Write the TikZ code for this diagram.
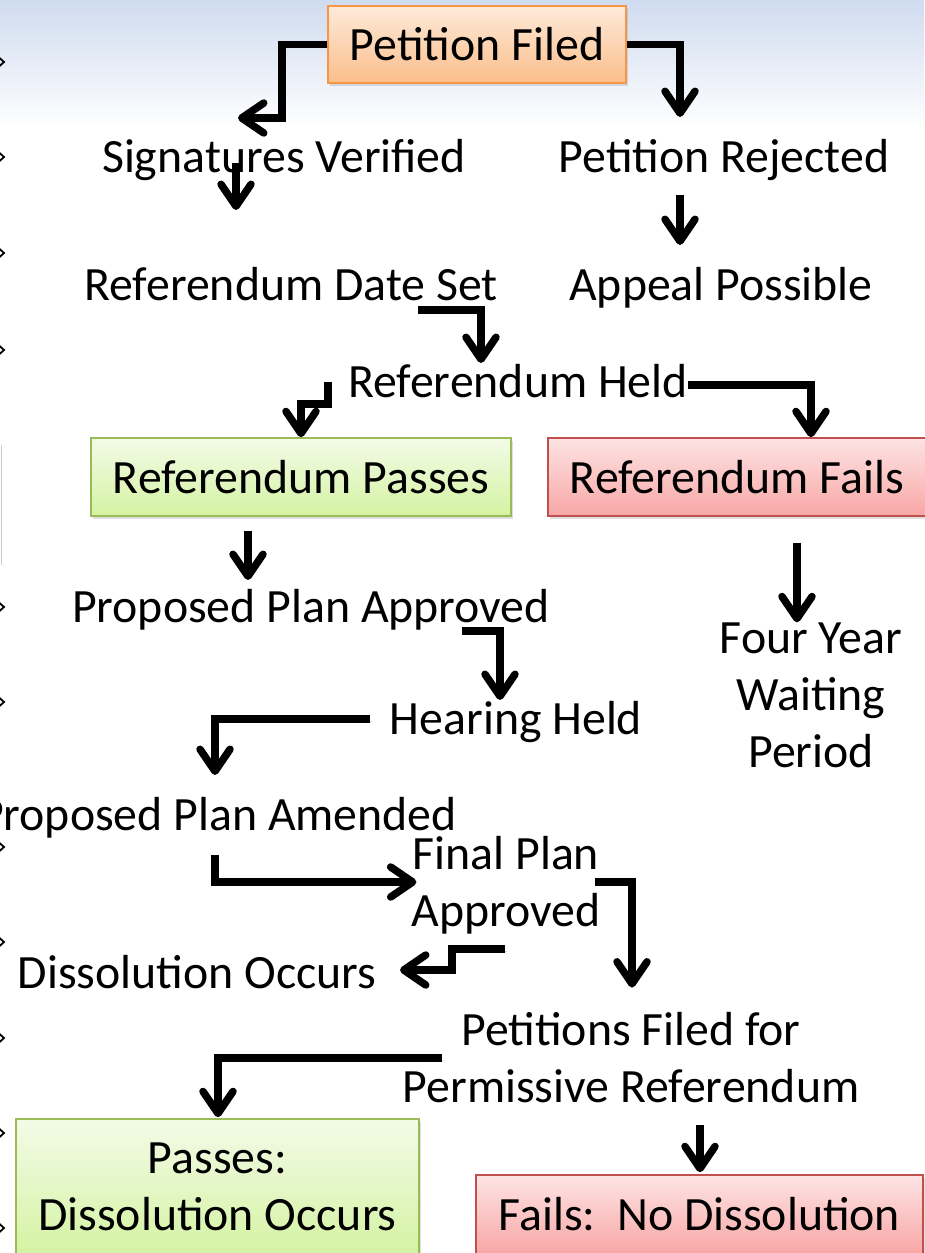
\documentclass[tikz,border=0pt]{standalone}
\usepackage{fontspec}
\setmainfont{Carlito}
\usetikzlibrary{arrows.meta,calc,shadows}
\definecolor{bgtop}{HTML}{CFDBEF}
\definecolor{obord}{HTML}{F79646}
\definecolor{otop}{HTML}{FDEADA}
\definecolor{obot}{HTML}{FBBE8A}
\definecolor{gbord}{HTML}{9BBB59}
\definecolor{gtop}{HTML}{F3FBE8}
\definecolor{gbot}{HTML}{D4F3A2}
\definecolor{rbord}{HTML}{C0504D}
\definecolor{rtop}{HTML}{FDE4E4}
\definecolor{rbot}{HTML}{F8A6A5}
\begin{document}
\begin{tikzpicture}[x=1pt,y=-1pt,
  lbl/.style={font=\fontsize{47.8}{57}\selectfont, inner sep=0pt, align=center},
  boxbase/.style={lbl, line width=1.6pt, drop shadow={shadow xshift=2pt,shadow yshift=-2.5pt,opacity=0.25}},
  obox/.style={boxbase, draw=obord, top color=otop, bottom color=obot},
  gbox/.style={boxbase, draw=gbord, top color=gtop, bottom color=gbot},
  rbox/.style={boxbase, draw=rbord, top color=rtop, bottom color=rbot},
  conn/.style={line width=7.5pt, black, -{Straight Barb[length=22pt,width=30pt,round]},
     preaction={draw=black, opacity=0.18, transform canvas={shift={(1.5pt,-2pt)}}}},
  chev/.style={line width=1.8pt}
]
\useasboundingbox (0,0) rectangle (924,1253);
\fill[white] (0,0) rectangle (924,1253);
\shade[top color=bgtop, bottom color=white] (0,0) rectangle (924,128);
\foreach \yy in {62,157,253,350,607,702,847,942,1038,1133,1228}
  \draw[chev] (-1.5,\yy-5) -- (4,\yy) -- (-1.5,\yy+5);
\draw[black!20, line width=1pt] (1,445) -- (1,565);

\node[obox, minimum width=298pt, minimum height=77pt] (pf) at (477,44.5) {Petition Filed};
\node[lbl, anchor=base] (sv) at (284,172) {Signatures Verified};
\node[lbl, anchor=base] (pr) at (724,172) {Petition Rejected};
\node[lbl, anchor=base] (rds) at (291,300) {Referendum Date Set};
\node[lbl, anchor=base] (ap) at (721,300) {Appeal Possible};
\node[lbl, anchor=base] (rh) at (518,397) {Referendum Held};
\node[gbox, minimum width=420pt, minimum height=78pt] (rp) at (301,477) {Referendum Passes};
\node[rbox, minimum width=378pt, minimum height=78pt] (rf) at (737,477) {Referendum Fails};
\node[lbl, anchor=base] (ppa) at (311,622) {Proposed Plan Approved};
\node[lbl] (fyw) at (811,695) {Four Year\\Waiting\\Period};
\node[lbl, anchor=base] (hh) at (516,734) {Hearing Held};
\node[lbl, anchor=base] (ppam) at (218,830) {Proposed Plan Amended};
\node[lbl] (fpa) at (506,885) {Final Plan\\Approved};
\node[lbl, anchor=base] (dso) at (197,988) {Dissolution Occurs};
\node[lbl] (pff) at (631,1058) {Petitions Filed for\\Permissive Referendum};
\node[gbox, minimum width=403pt, minimum height=136pt] (pdo) at (217.5,1187) {Passes:\\Dissolution Occurs};
\node[rbox, minimum width=447pt, minimum height=79pt] (fnd) at (699.5,1214.5) {Fails:\ \ No Dissolution};

\draw[conn] (pf.west) -| ($(sv.base)+(-2,-54)$) -- ($(sv.base)+(-46,-54)$);
\draw[conn] (pf.east) -| ($(pr.base)+(-44,-55)$);
\draw[conn] ($(sv.base)+(-48,-9)$) -- ($(rds.base)+(-55,-90)$);
\draw[conn] ($(pr.base)+(-44,23)$) -- ($(ap.base)+(-41,-55)$);
\draw[conn] ($(rds.base)+(127,10)$) -| ($(rh.base)+(-37,-34)$);
\draw[conn] ($(rh.base)+(-190,-15)$) |- ($(rp.north)+(0,-33)$) -- (rp.north);
\draw[conn] ($(rh.base)+(170,-12)$) -| ($(rf.north)+(74,0)$);
\draw[conn] ($(rp.south)+(-53,14)$) -- ($(ppa.base)+(-63,-42)$);
\draw[conn] ($(rf.south)+(60,26)$) -- ($(fyw.north)+(-14,0)$);
\draw[conn] ($(ppa.base)+(151,9)$) -| ($(hh.base)+(-16,-34)$);
\draw[conn] ($(hh.base)+(-146,-15)$) -| ($(ppam.base)+(-3,-55)$);
\draw[conn] ($(ppam.base)+(-3,25)$) |- ($(fpa.west)+(5,-3)$);
\draw[conn] ($(fpa.south)+(-1,15)$) -| ($(dso.base)+(255,-18)$) -- ($(dso.base)+(203,-18)$);
\draw[conn] ($(fpa.east)+(-6,-3)$) -| ($(pff.north)+(1,-25)$);
\draw[conn] ($(pff.west)+(39,0)$) -| ($(pdo.north)+(0.5,-1)$);
\draw[conn] ($(pff.south)+(69,22)$) -- ($(fnd.north)+(0.5,-2)$);
\end{tikzpicture}
\end{document}
